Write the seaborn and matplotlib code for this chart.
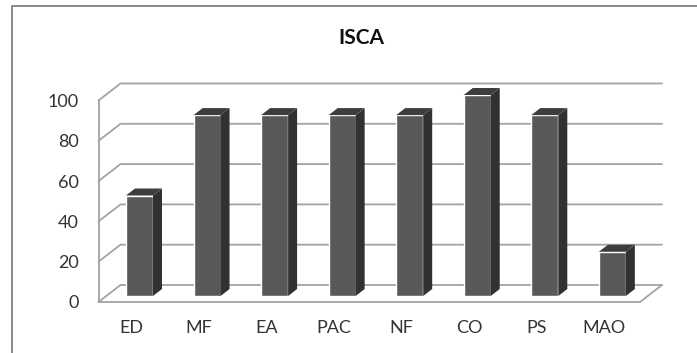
import matplotlib
matplotlib.use("Agg")
import matplotlib.pyplot as plt
from matplotlib.patches import Polygon
from matplotlib.lines import Line2D
from matplotlib.transforms import ScaledTranslation
import pandas as pd
import seaborn as sns

categories = ["ED", "MF", "EA", "PAC", "NF", "CO", "PS", "MAO"]
scores = [50, 90, 90, 90, 90, 100, 90, 22]
y_ticks = [0, 20, 40, 60, 80, 100]

W, H = 697, 353
FRONT_FACE = "#58595b"
SIDE_FACE = "#303133"
TOP_FACE = "#3c3d3f"
GRID = "#a3a3a6"
BORDER = "#808080"
TEXT = "#333333"

sns.set_theme(style="white")
plt.rcParams["font.family"] = ["Lato", "DejaVu Sans"]


def axes_box(left, right, top, bottom):
    return [left / W, 1 - bottom / H, (right - left) / W, (bottom - top) / H]


fig = plt.figure(figsize=(W / 100, H / 100), dpi=100, facecolor="white")

# Chart frame: left and top edges only
fig.add_artist(Line2D([11.5 / W, 11.5 / W, 1],
                      [0, 1 - 6 / H, 1 - 6 / H],
                      color=BORDER, lw=1.3, transform=fig.transFigure))

# Value axis: the front edge of the box, with the receding walls behind it
wall = fig.add_axes(axes_box(98.5, 640, 100.5, 302))
wall.set_xlim(0, 1)
wall.set_ylim(0, 100)
wall.patch.set_alpha(0)
sns.despine(ax=wall, left=True, bottom=True, top=True, right=True)
depth_x = 22 / 541.5
depth_y = 17 / 2.015

for tick in y_ticks:
    wall.plot([0, depth_x, 1 + depth_x],
              [tick, tick + depth_y, tick + depth_y],
              color=GRID, lw=1.3, clip_on=False, solid_joinstyle="miter")
wall.plot([0, 0], [0, 100], color=GRID, lw=1.3, clip_on=False)
wall.plot([0, 1, 1 + depth_x], [0, 0, depth_y], color=GRID, lw=1.3, clip_on=False)
wall.set_xticks([])
wall.set_yticks(y_ticks)
wall.set_yticklabels([str(t) for t in y_ticks], fontsize=13, color=TEXT)
wall.tick_params(axis="y", length=0, pad=14)
wall.set_title("ISCA", fontsize=15, fontweight="bold", color="#111111",
               x=(361 - 98.5) / 541.5, y=1.27, va="center")

# Bars: front faces sit a little inside the box on the floor
spacing = 67.55
first_center = 139.5
bars_left = 98.5
bars_right = 640
bars = fig.add_axes(axes_box(bars_left, bars_right, 95, 296))
bars.patch.set_alpha(0)
frame = pd.DataFrame({"scale": categories, "score": scores})
sns.barplot(data=frame, x="scale", y="score", ax=bars, color=FRONT_FACE,
            saturation=1, width=27 / spacing, order=categories)
bars.set_xlim((bars_left - first_center) / spacing,
              (bars_right - first_center) / spacing)
bars.set_ylim(0, 100)
bars.set_yticks([])
bars.set_xlabel("")
bars.set_ylabel("")
sns.despine(ax=bars, left=True, bottom=True)
bars.tick_params(axis="x", length=0, pad=17, labelsize=13, labelcolor=TEXT)

# Category names sit centred on the front plane, left of the receded bars
label_shift = ScaledTranslation(-8 / 100, 0, fig.dpi_scale_trans)
for label in bars.get_xticklabels():
    label.set_transform(label.get_transform() + label_shift)

# Side and top faces give each bar its depth
bar_dx = 9 / spacing
bar_dy = 7 / 2.01
half = 27 / spacing / 2
for i, value in enumerate(scores):
    l, r = i - half, i + half
    bars.add_patch(Polygon([(r, 0), (r + bar_dx, bar_dy),
                            (r + bar_dx, value + bar_dy), (r, value)],
                           closed=True, fc=SIDE_FACE, ec="none", clip_on=False))
    bars.add_patch(Polygon([(l, value), (r, value),
                            (r + bar_dx, value + bar_dy), (l + bar_dx, value + bar_dy)],
                           closed=True, fc=TOP_FACE, ec="none", clip_on=False))

fig.savefig("out.png", dpi=100)
